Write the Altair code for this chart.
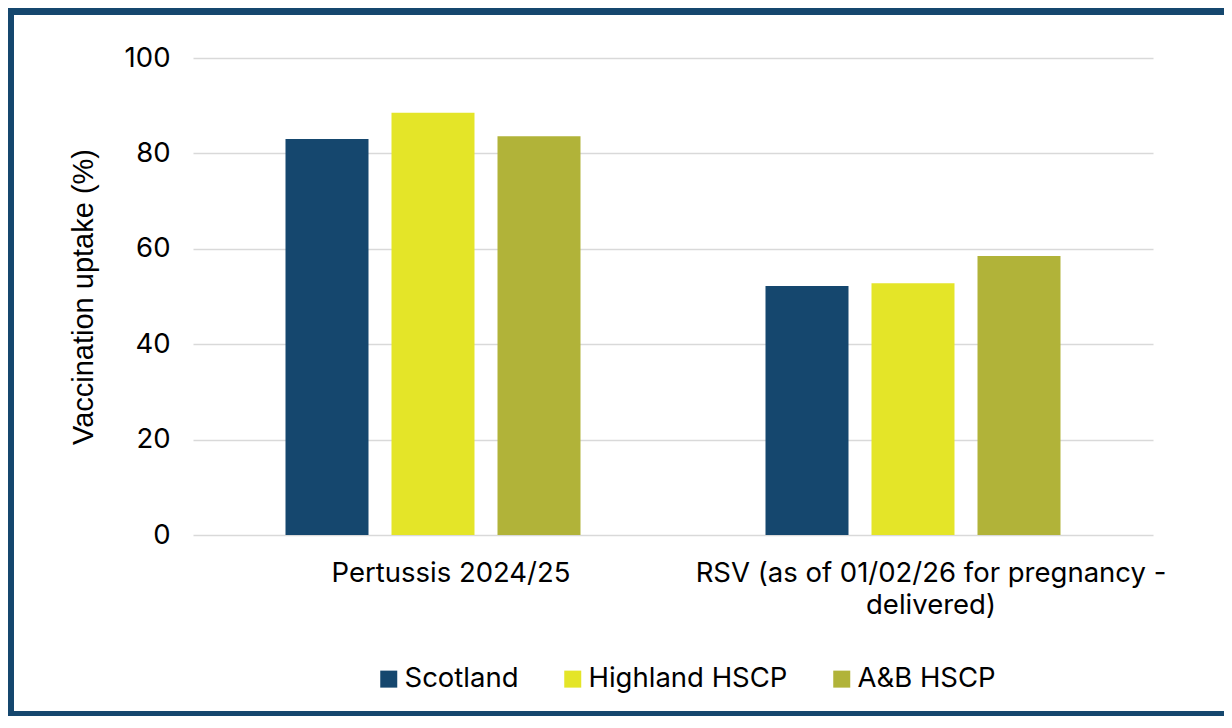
import altair as alt
import pandas as pd

categories = ["Pertussis 2024/25", "RSV (as of 01/02/26 for pregnancy - delivered)"]
series = ["Scotland", "Highland HSCP", "A&B HSCP"]
colors = ["#15476E", "#E4E528", "#B1B339"]
values = {
    "Scotland": [83.0, 52.2],
    "Highland HSCP": [88.5, 52.8],
    "A&B HSCP": [83.6, 58.5],
}

rows = []
for s in series:
    for c, v in zip(categories, values[s]):
        rows.append({"category": c, "series": s, "value": v})
df = pd.DataFrame(rows)

FONT = "Inter"
FS = 27.5
W, H = 960, 477

bars = alt.Chart(df).mark_bar().encode(
    x=alt.X("category:N", sort=categories, title=None,
            scale=alt.Scale(paddingInner=0.3375, paddingOuter=0.16875),
            axis=alt.Axis(
                labelAngle=0, labelFont=FONT, labelFontSize=FS, labelColor="#000000",
                labelPadding=24, labelLineHeight=32, ticks=False, domain=False,
                grid=False, labelLimit=700, labelOffset=18,
                labelExpr="datum.label == 'RSV (as of 01/02/26 for pregnancy - delivered)' ? ['RSV (as of 01/02/26 for pregnancy -', 'delivered)'] : datum.label")),
    xOffset=alt.XOffset("series:N", sort=series,
                        scale=alt.Scale(paddingInner=0.217, paddingOuter=0.1085)),
    y=alt.Y("value:Q", title="Vaccination uptake (%)",
            scale=alt.Scale(domain=[0, 100]),
            axis=alt.Axis(values=[0, 20, 40, 60, 80, 100], ticks=False, domain=False,
                          labelFont=FONT, labelFontSize=FS, labelColor="#000000",
                          labelPadding=23, gridColor="#D9D9D9", gridWidth=1.5,
                          titleFont="Liberation Sans", titleFontSize=29,
                          titleFontWeight="normal", titleColor="#000000",
                          titlePadding=26)),
    color=alt.Color("series:N", sort=series,
                    scale=alt.Scale(domain=series, range=colors),
                    legend=alt.Legend(orient="none", legendX=182, legendY=607,
                                      direction="horizontal", title=None,
                                      symbolType="square", symbolSize=289,
                                      symbolStrokeWidth=0, labelFont=FONT,
                                      labelFontSize=FS, labelColor="#000000",
                                      labelOffset=2, columnPadding=40,
                                      labelLimit=400)),
)

frame_df = pd.DataFrame({"k": [0]})
frame_color = "#15476E"
left_bar = alt.Chart(frame_df).mark_rect(color=frame_color).encode(
    x=alt.value(-185), x2=alt.value(-179), y=alt.value(-50), y2=alt.value(658))
top_bar = alt.Chart(frame_df).mark_rect(color=frame_color).encode(
    x=alt.value(-185), x2=alt.value(1031), y=alt.value(-50), y2=alt.value(-43))
bottom_bar = alt.Chart(frame_df).mark_rect(color=frame_color).encode(
    x=alt.value(-185), x2=alt.value(1031), y=alt.value(653), y2=alt.value(658))

chart = alt.layer(bars, left_bar, top_bar, bottom_bar).properties(
    width=W, height=H,
    background="white",
    autosize=alt.AutoSizeParams(type="none"),
    padding={"left": 185, "top": 50, "right": 71, "bottom": 181},
).configure_view(stroke="transparent", strokeWidth=0)

chart.save("out.html", embed_options={"renderer": "svg", "actions": False})
